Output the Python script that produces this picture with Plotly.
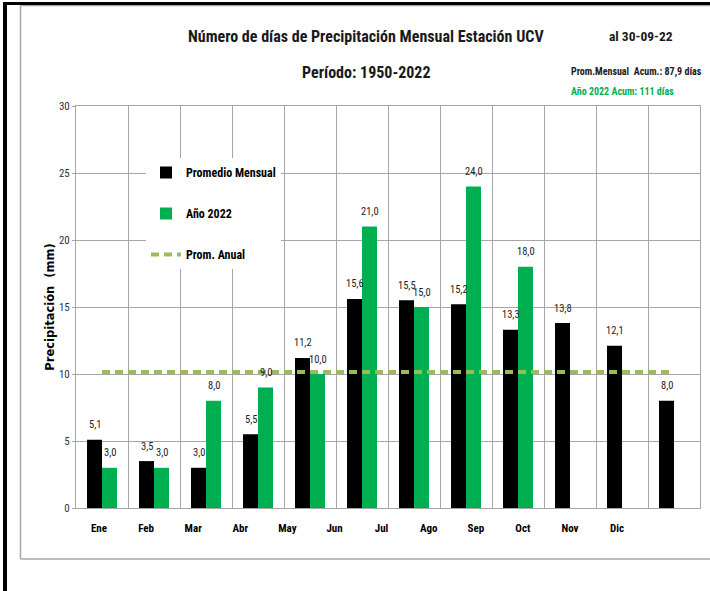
import plotly.graph_objects as go

meses = ["Ene", "Feb", "Mar", "Abr", "May", "Jun", "Jul", "Ago", "Sep", "Oct", "Nov", "Dic"]
promedio_mensual = [5.1, 3.5, 3.0, 5.5, 11.2, 15.6, 15.5, 15.2, 13.3, 13.8, 12.1, 8.0]
anio_2022 = [3.0, 3.0, 8.0, 9.0, 10.0, 21.0, 15.0, 24.0, 18.0, None, None, None]
prom_anual = [10.15] * 12
y_ticks = [0, 5, 10, 15, 20, 25, 30]

NARROW = "Roboto Condensed, Liberation Sans Narrow, DejaVu Sans Condensed, Liberation Sans, sans-serif"
BLACK = "#000000"
GREEN = "#00B050"
OLIVE = "#9BBB59"
GRID = "#A6A6A6"

L, R, T, B = 76, 700, 106, 508
W, H = 710, 591


def px(xpix):
    return (xpix - L) / (R - L)


def py(ypix):
    return (B - ypix) / (B - T)


fig = go.Figure()
fig.add_trace(go.Bar(x=meses, y=promedio_mensual, name="Promedio Mensual",
                     marker=dict(color=BLACK, line=dict(width=0)), legendgroup="a"))
fig.add_trace(go.Bar(x=meses, y=anio_2022, name="Año 2022",
                     marker=dict(color=GREEN, line=dict(width=0)), legendgroup="b"))
fig.add_trace(go.Scatter(x=meses, y=prom_anual, name="Prom. Anual", mode="lines",
                         line=dict(color=OLIVE, width=4, dash="8px,5px"), legendgroup="c"))
fig.add_trace(go.Scatter(x=list(range(12)), y=[None] * 12, xaxis="x2",
                         showlegend=False, hoverinfo="skip"))


def fmt(v):
    return f"{v:.1f}".replace(".", ",")


LBL = dict(family=NARROW, size=10.5, color="#222222")
annotations = []
for m, v in zip(meses, promedio_mensual):
    annotations.append(dict(x=m, y=v, xref="x", yref="y", text=fmt(v), showarrow=False,
                            xshift=-7.5, yshift=15, font=LBL))
for m, v in zip(meses, anio_2022):
    if v is None:
        continue
    annotations.append(dict(x=m, y=v, xref="x", yref="y", text=fmt(v), showarrow=False,
                            xshift=7.5, yshift=15, font=LBL))


def txt(x, y, s, size, color="#1a1a1a", anchor="center"):
    return dict(x=px(x), y=py(y), xref="paper", yref="paper", showarrow=False,
                xanchor=anchor, yanchor="middle", text=s,
                font=dict(family=NARROW, size=size, color=color, weight=700))


annotations += [
    txt(366, 36, "Número de días de Precipitación Mensual Estación UCV", 16),
    txt(366, 72, "Período: 1950-2022", 16),
    txt(641, 36, "al 30-09-22", 13.5),
    txt(569, 72, "Prom.Mensual  Acum.: 87,9 días", 10, anchor="left"),
    txt(569, 91, "Año 2022 Acum: 111 días", 10, color=GREEN, anchor="left"),
]

shapes = [
    dict(type="line", xref="paper", yref="paper", x0=px(20.5), x1=px(712), y0=py(5.5), y1=py(5.5),
         line=dict(color=GRID, width=1.5)),
    dict(type="line", xref="paper", yref="paper", x0=px(20.5), x1=px(20.5), y0=py(5.5), y1=py(559),
         line=dict(color=GRID, width=1.5)),
    dict(type="line", xref="paper", yref="paper", x0=px(20.5), x1=px(712), y0=py(559), y1=py(559),
         line=dict(color=GRID, width=1.5)),
    dict(type="line", xref="paper", yref="paper", x0=px(3), x1=px(712), y0=py(3.5), y1=py(3.5),
         line=dict(color=BLACK, width=3)),
    dict(type="line", xref="paper", yref="paper", x0=px(5), x1=px(5), y0=py(2), y1=py(593),
         line=dict(color=BLACK, width=4)),
]

fig.update_layout(
    width=W, height=H,
    margin=dict(l=L, r=W - R, t=T, b=H - B),
    paper_bgcolor="white", plot_bgcolor="white",
    barmode="group", bargap=0.423, bargroupgap=0,
    showlegend=True,
    legend=dict(x=px(146), y=py(158), xanchor="left", yanchor="top",
                bgcolor="white", borderwidth=0, tracegroupgap=22,
                font=dict(family=NARROW, size=12, color="#000000", weight=700),
                traceorder="grouped", itemwidth=30),
    annotations=annotations,
    shapes=shapes,
    xaxis=dict(type="category", categoryorder="array", categoryarray=meses,
               range=[-0.5, 11.5], tickson="boundaries", showgrid=True, gridcolor=GRID,
               gridwidth=1, showticklabels=False, ticks="", showline=True, automargin=False,
               linecolor=GRID, linewidth=1, mirror=True, zeroline=False),
    xaxis2=dict(overlaying="x", anchor="y", side="bottom", range=[-0.488, 12.76],
                tickmode="array", tickvals=list(range(12)), ticktext=meses, automargin=False,
                showgrid=False, zeroline=False, showline=False,
                ticks="outside", ticklen=10, tickcolor="rgba(0,0,0,0)",
                tickfont=dict(family=NARROW, size=11, color="#000000", weight=700)),
    yaxis=dict(range=[0, 30], tickmode="array", tickvals=y_ticks, automargin=False,
               showgrid=True, gridcolor=GRID, gridwidth=1, zeroline=False,
               showline=True, linecolor=GRID, linewidth=1, mirror=True,
               ticks="outside", ticklen=3, tickcolor=GRID,
               tickfont=dict(family=NARROW, size=11, color="#333333"),
               title=dict(text="<b>Precipitación  (mm)</b>", standoff=1,
                          font=dict(family="DejaVu Sans, sans-serif", size=11.5,
                                    color="#000000"))),
)

fig.write_html("out.html", config={"displayModeBar": False},
               post_script="document.body.style.margin='0px';")
